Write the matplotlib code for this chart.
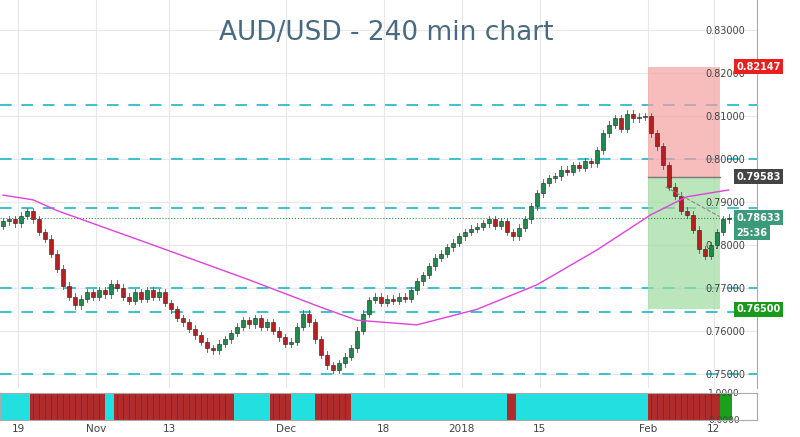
import matplotlib
matplotlib.use("Agg")
import matplotlib.pyplot as plt
from matplotlib.patches import Rectangle

closes = [0.7855,0.7860,0.7850,0.7868,0.7878,0.7860,0.7830,0.7815,0.7780,0.7745,
0.7705,0.7680,0.7660,0.7675,0.7690,0.7680,0.7695,0.7685,0.7710,0.7700,
0.7680,0.7670,0.7690,0.7675,0.7695,0.7680,0.7690,0.7665,0.7650,0.7630,
0.7620,0.7605,0.7590,0.7575,0.7560,0.7555,0.7570,0.7580,0.7595,0.7610,
0.7625,0.7615,0.7630,0.7610,0.7620,0.7600,0.7585,0.7570,0.7575,0.7610,
0.7640,0.7620,0.7580,0.7545,0.7520,0.7510,0.7525,0.7540,0.7560,0.7600,
0.7640,0.7672,0.7680,0.7665,0.7675,0.7670,0.7680,0.7675,0.7695,0.7715,
0.7730,0.7750,0.7770,0.7780,0.7795,0.7805,0.7820,0.7830,0.7838,0.7842,
0.7850,0.7860,0.7845,0.7855,0.7830,0.7820,0.7840,0.7860,0.7890,0.7920,
0.7945,0.7955,0.7960,0.7975,0.7970,0.7985,0.7980,0.7995,0.7990,0.8020,
0.8060,0.8080,0.8095,0.8070,0.8105,0.8095,0.8098,0.8100,0.8060,0.8030,
0.7985,0.7935,0.7915,0.7880,0.7870,0.7835,0.7790,0.7775,0.7800,0.7830,
0.7860,0.7863]
open0 = 0.7845
ma_idx = [0, 5, 9, 15, 25, 41, 53, 59, 69, 79, 89, 99, 108, 114, 121]
ma_val = [0.7916, 0.7905, 0.7880, 0.7850, 0.7800, 0.7719, 0.7655, 0.7625, 0.7614,
          0.7650, 0.7707, 0.7788, 0.7870, 0.7912, 0.7928]
levels = [0.8125, 0.8000, 0.7885, 0.7700, 0.7645, 0.7500]
stop_price, entry_price, target_price = 0.82147, 0.79583, 0.76500
last_price = 0.78633
tick_pos = [2.5, 15.5, 27.7, 47.2, 63.5, 76.5, 89.5, 107.5, 118.5]
tick_lab = ["19", "Nov", "13", "Dec", "18", "2018", "15", "Feb", "12"]
yticks = [0.75, 0.76, 0.77, 0.78, 0.79, 0.80, 0.81, 0.82, 0.83]
strip_segments = [(-0.5, 4.5, "#22e0e0"), (4.5, 17, "#b22b2b"), (17, 18.5, "#22e0e0"),
                  (18.5, 38.5, "#b22b2b"), (38.5, 44.5, "#22e0e0"), (44.5, 48, "#b22b2b"),
                  (48, 52, "#22e0e0"), (52, 58, "#b22b2b"), (58, 84, "#22e0e0"),
                  (84, 85.5, "#b22b2b"), (85.5, 107.5, "#22e0e0"), (107.5, 119.5, "#b22b2b"),
                  (119.5, 121.5, "#1aa01a")]

fig = plt.figure(figsize=(8, 4.37), dpi=100)
ax = fig.add_axes([0, 0.112, 0.946, 0.888])
ax2 = fig.add_axes([0, 0.039, 0.946, 0.062])

xmax = 125.7
for y in yticks:
    ax.axhline(y, color="#e8e8e8", lw=0.8, zorder=0)
for t in tick_pos:
    ax.axvline(t, color="#e8e8e8", lw=0.8, zorder=0)
for lv in levels:
    ax.axhline(lv, color="#3cc0d0", lw=1.4, ls=(0, (6, 5)), zorder=1)

ax.add_patch(Rectangle((107.5, entry_price), 12, stop_price - entry_price, color="#f4a0a0", alpha=0.7, lw=0, zorder=1))
ax.add_patch(Rectangle((107.5, target_price), 12, entry_price - target_price, color="#9edc9e", alpha=0.7, lw=0, zorder=1))
ax.plot([107.5, 119.5], [entry_price, entry_price], color="#777777", lw=1, zorder=2)

prev = open0
for i, c in enumerate(closes):
    o = prev
    col = "#1f8a4a" if c >= o else "#b82020"
    hi, lo = max(o, c) + 0.0008, min(o, c) - 0.0008
    ax.plot([i, i], [lo, hi], color="#555555", lw=0.6, zorder=3)
    ax.add_patch(Rectangle((i - 0.35, min(o, c)), 0.7, max(abs(c - o), 0.0002),
                           facecolor=col, edgecolor="#222222", lw=0.4, zorder=4))
    prev = c

ax.plot(ma_idx, ma_val, color="#e040e0", lw=1, zorder=5)
ax.axhline(last_price, color="#2e8b57", lw=0.8, ls=":", zorder=2)
ax.plot([110.5, 119.5], [0.7935, 0.7866], color="#888888", lw=0.8, ls="--", zorder=5)

ax.set_xlim(-0.5, xmax)
ax.set_ylim(0.7467, 0.8370)
ax.yaxis.tick_right()
ax.set_yticks(yticks)
ax.set_yticklabels([f"{v:.5f}" for v in yticks], fontsize=7, color="#444444")
ax.set_xticks([])
ax.tick_params(axis="y", length=0, pad=-37)
for s in ax.spines.values():
    s.set_visible(False)
ax.spines["right"].set_visible(True)
ax.spines["right"].set_color("#aaaaaa")

def tag(y, text, fc, dy=0):
    ax.text(xmax - 3.4, y + dy, text, fontsize=7, fontweight="bold", color="white", va="center", ha="left",
            bbox=dict(boxstyle="square,pad=0.25", fc=fc, ec="none"), clip_on=False, zorder=10)

tag(stop_price, "0.82147", "#e82020")
tag(entry_price, "0.79583", "#444444")
tag(last_price, "0.78633", "#3a9a7a")
tag(last_price - 0.0035, "25:36", "#3a9a7a")
tag(target_price, "0.76500", "#1a9a1a")

ax.text(0.51, 0.915, "AUD/USD - 240 min chart", transform=ax.transAxes, ha="center", va="center",
        fontsize=19, color="#4a6a80")

for a, b, c in strip_segments:
    ax2.add_patch(Rectangle((a, 0), b - a, 1, color=c, lw=0))
for a, b, c in strip_segments:
    if c == "#b22b2b":
        for k in range(int(a) + 1, int(b)):
            ax2.axvline(k, color="#7a1a1a", lw=0.4)
ax2.set_xlim(-0.5, xmax)
ax2.set_ylim(0, 1)
ax2.yaxis.tick_right()
ax2.set_yticks([0, 1])
ax2.set_yticklabels(["0.0000", "1.0000"], fontsize=6.5, color="#444444")
ax2.tick_params(axis="y", length=0, pad=-35)
ax2.set_xticks(tick_pos)
ax2.set_xticklabels(tick_lab, fontsize=7.5, color="#444444")
ax2.tick_params(axis="x", length=0, pad=3)
for s in ax2.spines.values():
    s.set_color("#aaaaaa")

fig.savefig("out.png", dpi=100)
